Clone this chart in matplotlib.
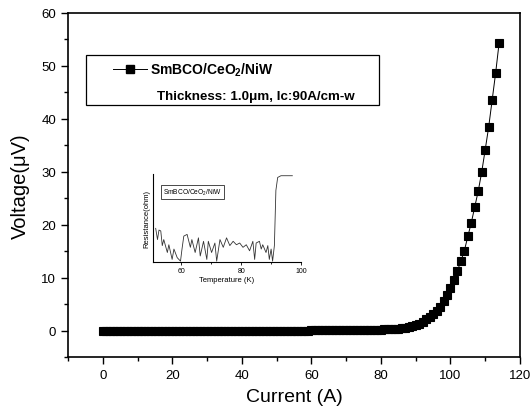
import matplotlib
matplotlib.use("Agg")
import matplotlib.pyplot as plt
from matplotlib.ticker import MultipleLocator
from matplotlib.lines import Line2D
from matplotlib.patches import Rectangle

plt.rcParams['font.family'] = ['Liberation Sans', 'DejaVu Sans']
plt.rcParams['mathtext.fontset'] = 'custom'
plt.rcParams['mathtext.rm'] = 'Liberation Sans'
plt.rcParams['mathtext.bf'] = 'Liberation Sans:bold'

# Main I-V data
current = list(range(0, 115))
voltage = ([0.0] * 60 +
           [0.02, 0.02, 0.03, 0.03, 0.04, 0.04, 0.05, 0.05, 0.06, 0.06,
            0.07, 0.08, 0.09, 0.10, 0.11, 0.12, 0.13, 0.14, 0.15, 0.17,
            0.19, 0.21, 0.24, 0.28, 0.32, 0.38, 0.45, 0.55, 0.68, 0.85,
            1.05, 1.3, 1.65, 2.1, 2.6, 3.1, 3.7, 4.5, 5.6, 6.8,
            8.1, 9.6, 11.3, 13.1, 15.1, 17.8, 20.4, 23.4, 26.4, 30.0,
            34.2, 38.5, 43.6, 48.7, 54.4])

# Inset R-T data
temperature = [51.4, 52.0, 52.5, 53.1, 53.6, 54.1, 55.3, 55.8, 56.9, 57.5,
               58.6, 59.7, 60.2, 60.8, 61.9, 63.0, 63.5, 64.6, 65.7, 66.3,
               67.4, 68.5, 69.0, 70.1, 71.2, 71.8, 72.9, 74.0, 75.1, 76.2,
               77.3, 78.4, 79.5, 80.6, 81.7, 82.8, 83.9, 84.5, 85.0, 86.1,
               86.7, 87.2, 88.3, 88.9, 89.4, 90.0, 90.5, 91.1, 91.6, 92.2,
               93.3, 94.9, 97.1]
resistance = [0.39, 0.26, 0.37, 0.36, 0.19, 0.26, 0.11, 0.20, 0.03, 0.15,
              0.05, 0.01, 0.15, 0.30, 0.32, 0.17, 0.26, 0.11, 0.28, 0.07,
              0.24, 0.03, 0.24, 0.11, 0.22, 0.01, 0.26, 0.17, 0.28, 0.19,
              0.24, 0.20, 0.22, 0.17, 0.20, 0.13, 0.24, 0.03, 0.22, 0.24,
              0.15, 0.20, 0.11, 0.19, 0.03, 0.15, 0.01, 0.19, 0.83, 0.98,
              1.0, 1.0, 1.0]

W, H = 531, 414
fig = plt.figure(figsize=(W / 100, H / 100), dpi=100)

def px_axes(x0, y0, x1, y1):
    return [x0 / W, 1 - y1 / H, (x1 - x0) / W, (y1 - y0) / H]

ax = fig.add_axes(px_axes(68, 14, 520, 358))
ax.plot(current, voltage, color='black', lw=0.7, marker='s', ms=6,
        mfc='black', mec='black', mew=0.8)
ax.set_xlim(-10, 120)
ax.set_ylim(-5, 60)
ax.xaxis.set_major_locator(MultipleLocator(20))
ax.xaxis.set_minor_locator(MultipleLocator(10))
ax.yaxis.set_major_locator(MultipleLocator(10))
ax.yaxis.set_minor_locator(MultipleLocator(5))
ax.tick_params(which='major', direction='out', length=5, width=1, labelsize=9.5)
ax.tick_params(which='minor', direction='out', length=3, width=1)
for s in ax.spines.values():
    s.set_linewidth(1.2)
ax.set_xlabel('Current (A)', fontsize=14, labelpad=5)
ax.set_ylabel('Voltage(\u03bcV)', fontsize=14.5, labelpad=8)

# Legend box (drawn manually)
fig.patches.append(Rectangle((86 / W, 1 - 106 / H), 293 / W, 50 / H,
                             transform=fig.transFigure, fill=False,
                             edgecolor='black', lw=0.9))
fig.lines.append(Line2D([113 / W, 147 / W], [1 - 70 / H, 1 - 70 / H],
                        transform=fig.transFigure, color='black', lw=0.7))
fig.lines.append(Line2D([130 / W], [1 - 70 / H], transform=fig.transFigure,
                        color='black', marker='s', ms=6, lw=0))
fig.text(150 / W, 1 - 70 / H, r'SmBCO/CeO$_\mathbf{2}$/NiW',
         fontsize=10, fontweight='bold', va='center', ha='left')
fig.text(157 / W, 1 - 97 / H, 'Thickness: 1.0\u03bcm, Ic:90A/cm-w',
         fontsize=9.6, fontweight='bold', va='center', ha='left')

# Inset
ins = fig.add_axes(px_axes(153, 175, 301, 263))
ins.plot(temperature, resistance, color='#333333', lw=0.6)
ins.set_xlim(50.5, 100)
ins.set_ylim(0, 1.02)
ins.spines['top'].set_visible(False)
ins.spines['right'].set_visible(False)
for s in ('left', 'bottom'):
    ins.spines[s].set_linewidth(0.8)
ins.set_yticks([])
ins.set_xticks([60, 80, 100])
ins.xaxis.set_minor_locator(MultipleLocator(10))
ins.tick_params(which='major', length=2, width=0.6, labelsize=5, pad=1.5)
ins.tick_params(which='minor', length=1.2, width=0.6)
ins.set_xlabel('Temperature (K)', fontsize=5.5, labelpad=1.5)
ins.set_ylabel('Resistance(ohm)', fontsize=5.5, labelpad=2)
ins.patch.set_alpha(0)
ins.text(0.07, 0.8, r'SmBCO/CeO$_2$/NiW', transform=ins.transAxes,
         fontsize=4.8, va='center', ha='left',
         bbox=dict(boxstyle='square,pad=0.3', fc='white', ec='black', lw=0.5))

fig.savefig('out.png', dpi=100)
